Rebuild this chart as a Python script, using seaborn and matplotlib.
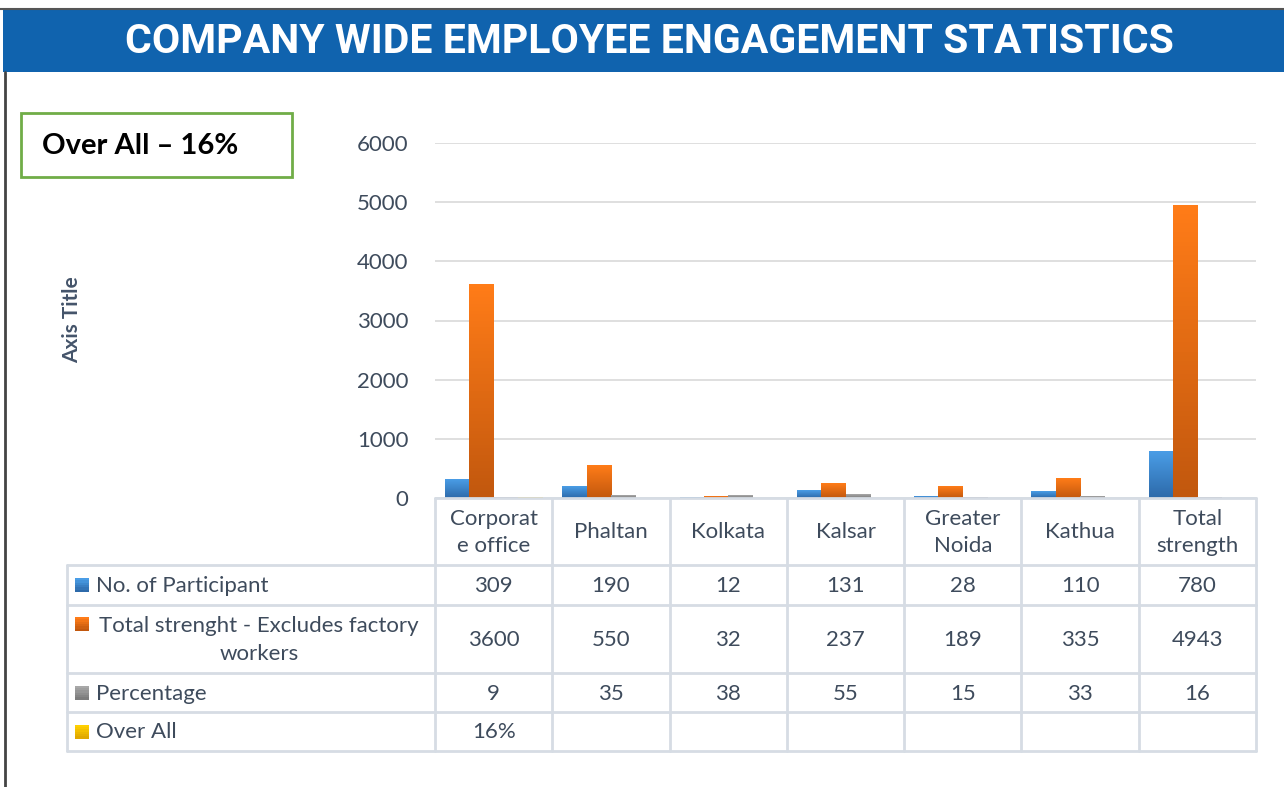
import numpy as np
import pandas as pd
import matplotlib
matplotlib.use("Agg")
import matplotlib.pyplot as plt
from matplotlib.lines import Line2D
from matplotlib.patches import Rectangle
from matplotlib.colors import LinearSegmentedColormap
import seaborn as sns

# data
locations = ["Corporate office", "Phaltan", "Kolkata", "Kalsar", "Greater Noida", "Kathua", "Total strength"]
loc_labels = ["Corporat\ne office", "Phaltan", "Kolkata", "Kalsar", "Greater\nNoida", "Kathua", "Total\nstrength"]
participants = [309, 190, 12, 131, 28, 110, 780]
total_strength = [3600, 550, 32, 237, 189, 335, 4943]
percentage = [9, 35, 38, 55, 15, 33, 16]
over_all = [0.16, np.nan, np.nan, np.nan, np.nan, np.nan, np.nan]
over_all_text = ["16%", "", "", "", "", "", ""]

series_names = ["No. of Participant", "Total strenght - Excludes factory\nworkers", "Percentage", "Over All"]
series_vals = [participants, total_strength, percentage, over_all]
series_text = [[str(v) for v in participants], [str(v) for v in total_strength],
               [str(v) for v in percentage], over_all_text]
# (top colour, bottom colour) for the gradient fills
grad_colors = [("#4A9DE6", "#2D6AAA"), ("#FF7C18", "#C2580E"), ("#A8A8A8", "#7C7C7C"), ("#FFD000", "#E0A800")]

W, H = 1284, 787
TXT = "#3E4B5C"
GRID = "#D6DCE4"
FS = 16

rows = []
for name, vals in zip(series_names, series_vals):
    for loc, v in zip(locations, vals):
        rows.append({"loc": loc, "series": name, "value": v})
df = pd.DataFrame(rows)

sns.set_theme(style="white")
plt.rcParams["font.family"] = ["Lato", "DejaVu Sans"]

fig = plt.figure(figsize=(W / 100, H / 100), dpi=100)


def fx(x):
    return x / W


def fy(y):
    return 1 - y / H


# chart area
ax_l, ax_r, ax_t, ax_b = 435, 1256, 143, 498
ax = fig.add_axes([fx(ax_l), fy(ax_b), fx(ax_r - ax_l), (ax_b - ax_t) / H])
sns.barplot(data=df, x="loc", y="value", hue="series", order=locations,
            hue_order=series_names, palette=[c[0] for c in grad_colors],
            width=0.83, ax=ax, legend=False, saturation=1, errorbar=None)
ax.set_ylim(0, 6000)
ax.set_yticks(range(0, 6001, 1000))
ax.yaxis.grid(True, color="#D9D9D9", linewidth=1.2)
ax.set_axisbelow(True)
ax.tick_params(axis="y", length=0, pad=19, labelsize=FS, labelcolor=TXT)
ax.set_xticks([])
ax.set_xlabel("")
ax.set_ylabel("")
for s in ax.spines.values():
    s.set_visible(False)

# gradient fill for each bar
for p in list(ax.patches):
    h = p.get_height()
    if not np.isfinite(h) or h <= 0:
        continue
    fc = matplotlib.colors.to_hex(p.get_facecolor())
    pair = next((g for g in grad_colors if g[0].lower() == fc.lower()), None)
    if pair is None:
        continue
    cmap = LinearSegmentedColormap.from_list("g", [pair[1], pair[0]])
    x0 = p.get_x()
    w = p.get_width()
    ax.imshow(np.linspace(0, 1, 64).reshape(-1, 1), cmap=cmap, origin="lower",
              extent=[x0, x0 + w, 0, h], aspect="auto", zorder=3)
    p.set_visible(False)
ax.set_xlim(-0.5, len(locations) - 0.5)
ax.set_ylim(0, 6000)

# y axis title
fig.text(fx(72), fy(320), "Axis Title", rotation=90, ha="center", va="center",
         fontsize=15, fontweight="bold", color="#44546A")

# title band
fig.add_artist(Rectangle((fx(3), fy(72)), 1, (72 - 10) / H, transform=fig.transFigure,
                         facecolor="#1063AE", edgecolor="none"))
fig.add_artist(Line2D([0, 1], [fy(9), fy(9)], transform=fig.transFigure, color="#555555", lw=1.5))
fig.text(fx(649), fy(42), "COMPANY WIDE EMPLOYEE ENGAGEMENT STATISTICS", ha="center", va="center",
         fontsize=29.5, fontweight="bold", color="white", family=["Roboto", "DejaVu Sans"])
fig.add_artist(Line2D([fx(5), fx(5)], [fy(72), 0], transform=fig.transFigure, color="#444444", lw=2))

# over all box
fig.add_artist(Rectangle((fx(21), fy(177)), fx(292 - 21), (177 - 113) / H, transform=fig.transFigure,
                         facecolor="white", edgecolor="#70AD47", lw=2))
fig.text(fx(42), fy(146), "Over All \u2013 16%", ha="left", va="center",
         fontsize=21, fontweight="bold", color="black")

# data table under the chart
col_w = (ax_r - ax_l) / len(locations)
col_edges = [ax_l + i * col_w for i in range(len(locations) + 1)]
row_edges = [498, 565, 605, 673, 712, 751]
tbl_l = 67


def hline(y, x0, x1):
    fig.add_artist(Line2D([fx(x0), fx(x1)], [fy(y), fy(y)], transform=fig.transFigure, color=GRID, lw=2))


def vline(x, y0, y1):
    fig.add_artist(Line2D([fx(x), fx(x)], [fy(y0), fy(y1)], transform=fig.transFigure, color=GRID, lw=2))


hline(row_edges[0], ax_l, ax_r)
for y in row_edges[1:]:
    hline(y, tbl_l, ax_r)
vline(tbl_l, row_edges[1], row_edges[-1])
for x in col_edges:
    vline(x, row_edges[0], row_edges[-1])

for i, lab in enumerate(loc_labels):
    cx = (col_edges[i] + col_edges[i + 1]) / 2
    fig.text(fx(cx), fy((row_edges[0] + row_edges[1]) / 2 + 1), lab, ha="center", va="center",
             fontsize=FS, color=TXT, linespacing=1.45)


def key(y_center, cols):
    # small gradient square used as legend key
    n = 6
    for k in range(n):
        c = matplotlib.colors.to_rgb(cols[0])
        d = matplotlib.colors.to_rgb(cols[1])
        t = k / (n - 1)
        col = tuple(a * (1 - t) + b * t for a, b in zip(c, d))
        top = y_center - 7 + k * 14 / n
        fig.add_artist(Rectangle((fx(75), fy(top + 14 / n)), fx(14), 14 / n / H, transform=fig.transFigure,
                                 facecolor=col, edgecolor="none"))


for r, (name, texts, cols) in enumerate(zip(series_names, series_text, grad_colors)):
    y0, y1 = row_edges[r + 1], row_edges[r + 2]
    cy = (y0 + y1) / 2
    multi = "\n" in name
    key(y0 + 19 if multi else cy, cols)
    if multi:
        fig.text(fx(259), fy(cy + 1), name, ha="center", va="center", fontsize=FS, color=TXT,
                 multialignment="center", linespacing=1.45)
    else:
        fig.text(fx(96), fy(cy + 1), name, ha="left", va="center", fontsize=FS, color=TXT)
    for i, t in enumerate(texts):
        cx = (col_edges[i] + col_edges[i + 1]) / 2
        fig.text(fx(cx), fy(cy + 1), t, ha="center", va="center", fontsize=FS, color=TXT)

fig.savefig("out.png", dpi=100)
